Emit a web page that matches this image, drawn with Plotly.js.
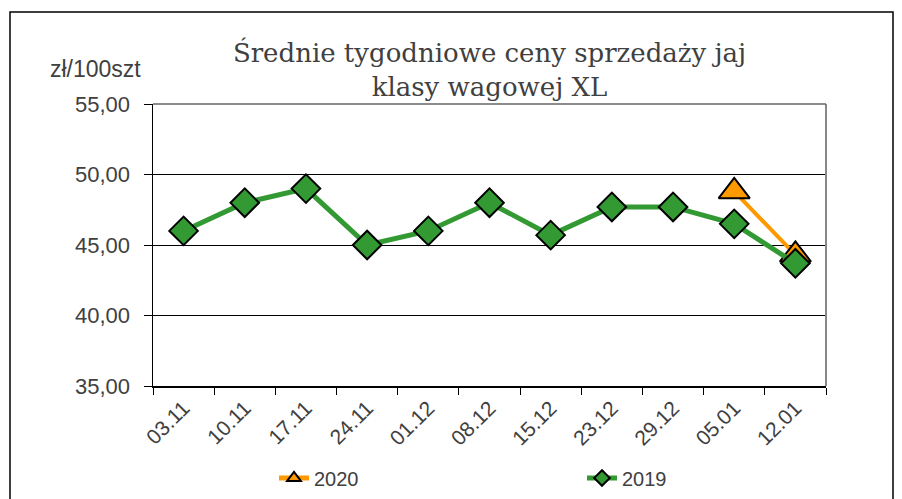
<!DOCTYPE html>
<html>
<head>
<meta charset="utf-8">
<script src="https://cdn.plot.ly/plotly-3.0.1.min.js"></script>
<style>
html,body{margin:0;padding:0;background:#fff;}
#chart{width:902px;height:499px;}
</style>
</head>
<body>
<div id="chart"></div>
<script>
const categories = ["03.11","10.11","17.11","24.11","01.12","08.12","15.12","23.12","29.12","05.01","12.01"];
const values2019 = [46.0, 48.0, 49.0, 45.0, 46.0, 48.0, 45.7, 47.7, 47.7, 46.5, 43.7];
const values2020 = [null, null, null, null, null, null, null, null, null, 48.8, 44.3];
const seriesNames = ["2020", "2019"];
const titleText = "Średnie tygodniowe ceny sprzedaży jaj<br>klasy wagowej XL";
const yUnit = "zł/100szt";

const W = 902, H = 499;
const L = 153, R = 826, T = 104, B = 386;
const px2x = p => (p - L) / (R - L);
const py2y = p => (B - p) / (B - T);

const traces = [
  {
    x: categories, y: values2020, name: seriesNames[0], type: 'scatter', mode: 'lines+markers',
    line: {color: '#FF9900', width: 4},
    marker: {symbol: 'triangle-up', size: 27, color: '#FF9900', line: {color: '#000', width: 2}},
    connectgaps: false
  },
  {
    x: categories, y: values2019, name: seriesNames[1], type: 'scatter', mode: 'lines+markers',
    line: {color: '#339933', width: 5},
    marker: {symbol: 'diamond', size: 22, color: '#339933', line: {color: '#000', width: 2}}
  }
];

const layout = {
  width: W, height: H,
  margin: {l: L, r: W - R, t: T, b: H - B, pad: 0},
  paper_bgcolor: '#fff', plot_bgcolor: '#fff',
  separators: ', ',
  showlegend: true,
  font: {family: 'Liberation Sans, Arial, sans-serif', color: '#404040'},
  title: {
    text: titleText,
    font: {family: 'DejaVu Serif, serif', size: 26, color: '#404040'},
    x: 0.5, xref: 'paper', xanchor: 'center',
    y: 1 - 62 / H, yref: 'container', yanchor: 'middle',
    automargin: false
  },
  xaxis: {
    type: 'category',
    automargin: false,
    tickson: 'boundaries',
    ticks: 'outside', ticklen: 7, tickwidth: 1, tickcolor: '#000',
    showline: true, linecolor: '#000', linewidth: 1.5,
    showgrid: false, zeroline: false,
    tickangle: -45,
    tickfont: {size: 21, color: '#404040', family: 'Liberation Sans, Arial, sans-serif'},
    range: [-0.5, 10.5]
  },
  yaxis: {
    automargin: false,
    range: [35, 55],
    dtick: 5, tick0: 35,
    tickformat: '.2f',
    ticks: 'outside', ticklen: 8, tickwidth: 1, tickcolor: '#000',
    showline: true, linecolor: '#000', linewidth: 1.5,
    showgrid: true, gridcolor: '#000', gridwidth: 1,
    zeroline: false,
    ticklabelstandoff: 9,
    tickfont: {size: 22, color: '#404040', family: 'Liberation Sans, Arial, sans-serif'}
  },
  legend: {
    orientation: 'h',
    xref: 'container', yref: 'container',
    x: 274 / W, xanchor: 'left',
    y: 1 - 478 / H, yanchor: 'middle',
    entrywidth: 263, entrywidthmode: 'pixels',
    traceorder: 'normal',
    itemsizing: 'constant',
    font: {size: 20, color: '#404040', family: 'Liberation Sans, Arial, sans-serif'},
    bgcolor: 'rgba(0,0,0,0)'
  },
  annotations: [
    {
      text: yUnit, showarrow: false,
      xref: 'paper', yref: 'paper',
      x: px2x(48), xanchor: 'left',
      y: py2y(69), yanchor: 'middle',
      font: {size: 23, color: '#404040', family: 'Liberation Sans, Arial, sans-serif'}
    }
  ],
  shapes: [
    {type: 'line', xref: 'paper', yref: 'paper', x0: 1, x1: 1, y0: 0, y1: 1,
     line: {color: '#888', width: 2}},
    {type: 'line', xref: 'paper', yref: 'paper', x0: 0, x1: 1, y0: 1, y1: 1,
     line: {color: '#666', width: 1.5}},
    {type: 'rect', xref: 'paper', yref: 'paper',
     x0: px2x(10), x1: px2x(893), y0: py2y(540), y1: py2y(12),
     line: {color: '#000', width: 1.5}, fillcolor: 'rgba(0,0,0,0)', layer: 'below'}
  ]
};

Plotly.newPlot('chart', traces, layout, {displayModeBar: false, staticPlot: true});
</script>
</body>
</html>
